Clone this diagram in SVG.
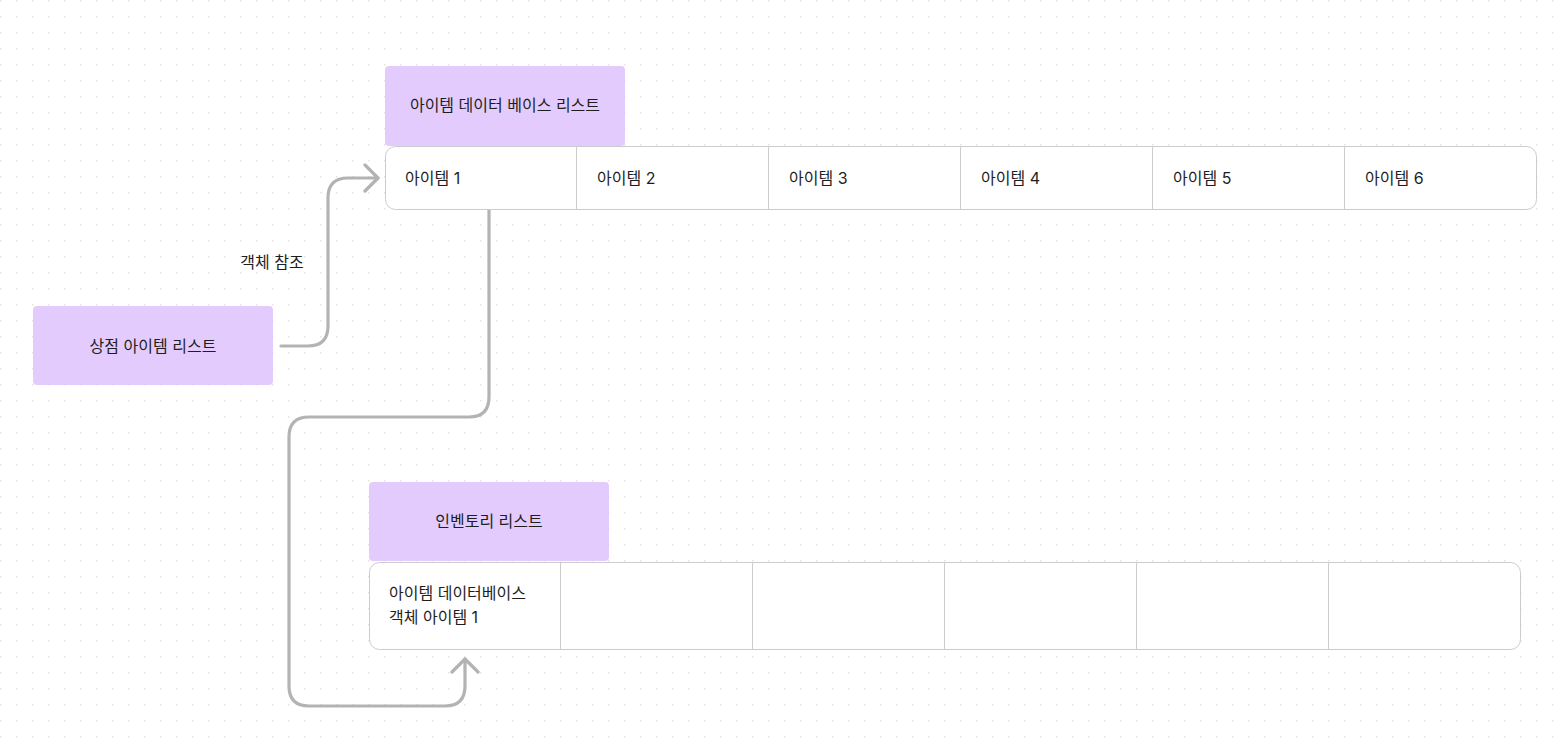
<svg xmlns="http://www.w3.org/2000/svg" width="1556" height="747" viewBox="0 0 1556 747">
<defs>
<pattern id="dots" x="0" y="0" width="16" height="16" patternUnits="userSpaceOnUse">
<rect x="0" y="0" width="1.5" height="1.5" fill="#e4e4e4"/>
</pattern>
<marker id="chev" viewBox="0 0 20 30" refX="15" refY="15" markerWidth="20" markerHeight="30" markerUnits="userSpaceOnUse" orient="auto">
<path d="M2 2 L15 15 L2 28" fill="none" stroke="#b3b3b3" stroke-width="3.2" stroke-linecap="round" stroke-linejoin="round"/>
</marker>
<style>
.hdr{fill:#e3ccfd;}
.tbl{fill:#fff;stroke:#cccccc;stroke-width:1;}
.div{stroke:#cccccc;stroke-width:1;}
.t{font-family:Inter,"Noto Sans CJK KR",sans-serif;font-size:16px;fill:#1e1e1e;}
.c{text-anchor:middle;}
.con{fill:none;stroke:#b3b3b3;stroke-width:3.2;stroke-linecap:round;stroke-linejoin:round;}
</style>
</defs>
<rect width="1556" height="747" fill="#ffffff"/>
<rect x="0" y="0" width="1556" height="747" fill="url(#dots)"/>

<g id="connectors">
<path class="con" d="M281 346 H308 Q328 346 328 326 V198 Q328 178 348 178 H378" marker-end="url(#chev)"/>
<path class="con" d="M489 210 V397 Q489 417 469 417 H309 Q289 417 289 437 V686 Q289 706 309 706 H445 Q465 706 465 686 V659" marker-end="url(#chev)"/>
<text class="t" x="272" y="268" text-anchor="middle">객체 참조</text>
</g>

<g id="shop-list">
<rect class="hdr" x="33" y="306" width="240" height="79" rx="4"/>
<text class="t c" x="153" y="352">상점 아이템 리스트</text>
</g>

<g id="item-db-header">
<rect class="hdr" x="385" y="66" width="240" height="80" rx="4"/>
<text class="t c" x="505" y="111">아이템 데이터 베이스 리스트</text>
</g>

<g id="item-db-table">
<rect class="tbl" x="385.5" y="146.5" width="1151" height="63" rx="10"/>
<line class="div" x1="576.5" y1="147" x2="576.5" y2="209"/>
<line class="div" x1="768.5" y1="147" x2="768.5" y2="209"/>
<line class="div" x1="960.5" y1="147" x2="960.5" y2="209"/>
<line class="div" x1="1152.5" y1="147" x2="1152.5" y2="209"/>
<line class="div" x1="1344.5" y1="147" x2="1344.5" y2="209"/>
<text class="t" x="405" y="184">아이템 1</text>
<text class="t" x="597" y="184">아이템 2</text>
<text class="t" x="789" y="184">아이템 3</text>
<text class="t" x="981" y="184">아이템 4</text>
<text class="t" x="1173" y="184">아이템 5</text>
<text class="t" x="1365" y="184">아이템 6</text>
</g>

<g id="inventory-header">
<rect class="hdr" x="369" y="482" width="240" height="79" rx="4"/>
<text class="t c" x="489" y="527">인벤토리 리스트</text>
</g>

<g id="inventory-table">
<rect class="tbl" x="369.5" y="562.5" width="1151" height="87" rx="10"/>
<line class="div" x1="560.5" y1="563" x2="560.5" y2="649"/>
<line class="div" x1="752.5" y1="563" x2="752.5" y2="649"/>
<line class="div" x1="944.5" y1="563" x2="944.5" y2="649"/>
<line class="div" x1="1136.5" y1="563" x2="1136.5" y2="649"/>
<line class="div" x1="1328.5" y1="563" x2="1328.5" y2="649"/>
<text class="t" x="389" y="599">아이템 데이터베이스</text>
<text class="t" x="389" y="623">객체 아이템 1</text>
</g>
</svg>
